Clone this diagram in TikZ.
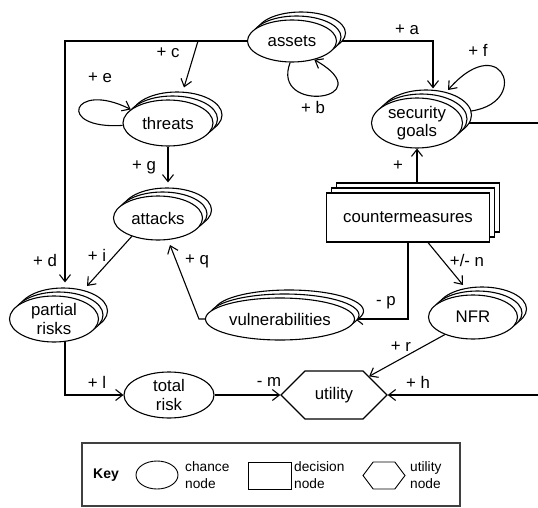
\documentclass[tikz,border=0pt]{standalone}
\usepackage{fontspec}
\setmainfont{Liberation Sans}
\usetikzlibrary{shapes.geometric,shapes.symbols,shadows,arrows.meta,backgrounds}

\tikzset{
	stack/.style={copy shadow={shadow xshift=9pt,shadow yshift=8pt,opacity=1,fill=white,draw=black,line width=1.1pt},
		copy shadow={shadow xshift=4.5pt,shadow yshift=4pt,opacity=1,fill=white,draw=black,line width=1.1pt}},
	chance/.style={ellipse,draw,fill=white,line width=1.1pt,inner sep=0pt,align=center,minimum width=90pt,minimum height=46pt},
	decision/.style={rectangle,draw,fill=white,line width=1.1pt,minimum width=163pt,minimum height=49pt},
	utilitynode/.style={signal,signal to=east and west,signal pointer angle=90,draw,fill=white,line width=1.1pt,inner sep=0pt,minimum width=106pt,minimum height=48pt},
	lbl/.style={inner sep=0pt},
	keytxt/.style={anchor=west,inner sep=0pt,align=left,font=\fontsize{13.7}{17}\selectfont},
	arr/.style={line width=1.1pt,-{Straight Barb[length=7pt,width=11pt]}},
	plain/.style={line width=1.1pt}
}

\begin{document}
\begin{tikzpicture}[x=1pt,y=-1pt,font=\fontsize{16.8}{18.5}\selectfont]
	\useasboundingbox (0,0) rectangle (538,508);

	\node[chance,stack,minimum width=89pt,minimum height=42pt] (assets) at (292,41) {assets};
	\node[chance,stack] (threats) at (168,123) {threats};
	\node[chance,stack,minimum width=89pt,minimum height=44pt] (attacks) at (158,218) {attacks};
	\node[chance,stack,minimum width=89pt] (risks) at (54,319) {partial\\risks};
	\node[chance,stack,minimum width=149pt,minimum height=42pt] (vuln) at (280,319) {vulnerabilities};
	\node[chance,stack,minimum width=89pt,minimum height=44pt] (nfr) at (473,317) {NFR};
	\node[chance,stack,minimum width=91pt,minimum height=50pt] (goals) at (417,123) {security\\goals};
	\node[chance] (total) at (169,395) {total\\risk};
	\node[utilitynode] (utility) at (334,395) {utility};
	\node[decision,copy shadow={shadow xshift=10pt,shadow yshift=10pt,opacity=1,fill=white,draw=black,line width=1.1pt},
		copy shadow={shadow xshift=5pt,shadow yshift=5pt,opacity=1,fill=white,draw=black,line width=1.1pt}] (cm) at (408,217.5) {countermeasures};

	\coordinate (fork) at (198,41);
	\coordinate (rimA) at (538,123);
	\coordinate (rimB) at (538,395);

	\begin{scope}[on background layer]
		\draw[arr] (assets.east) -| ([shift={(16pt,9pt)}]goals.north);
		\draw[arr] (assets.west) -| ([shift={(11pt,13pt)}]risks.north);
		\draw[arr] (fork) -- ([shift={(16pt,12pt)}]threats.north);
		\draw[arr] (assets.265) .. controls (270,115) and (385,100) .. (assets.320);
		\draw[arr] (threats.183) .. controls (55,130) and (72,80) .. (threats.160);
		\draw[arr] (threats.south) -- ([shift={(10pt,13pt)}]attacks.north);
		\draw[arr] (attacks.215) -- ([shift={(33pt,33pt)}]risks.center);
		\draw[arr] (vuln.west) -- ++(-6,0) -- ([shift={(12pt,-27pt)}]attacks.center);
		\draw[arr] (goals.south |- cm.center) -- (goals.south);
		\draw[arr] (cm.center) |- (vuln.east);
		\draw[arr] ([xshift=20pt]cm.south) -- ([shift={(-10pt,32pt)}]nfr.center);
		\draw[arr] (nfr.212) -- (utility.28);
		\draw[arr] ([xshift=11pt]risks.center) |- (total.west);
		\draw[arr] (total.east) -- (utility.west);
		\draw[plain] (goals.east) -- (rimA);
		\draw[arr] (rimB) -- (utility.east);
		\draw[arr] (goals.15) .. controls (535,112) and (505,25) .. ([shift={(31pt,33pt)}]goals.center);
	\end{scope}

	\node[lbl] (la) at (407,30) {+ a};
	\node[lbl] (lb) at (313,107) {+ b};
	\node[lbl] (lc) at (168,53) {+ c};
	\node[lbl] (ld) at (45,260) {+ d};
	\node[lbl] (le) at (100,78) {+ e};
	\node[lbl] (lf) at (478,50) {+ f};
	\node[lbl] (lg) at (144,167) {+ g};
	\node[lbl] (lplus) at (398,166) {+};
	\node[lbl] (li) at (97,255) {+ i};
	\node[lbl] (lq) at (197,261) {+ q};
	\node[lbl] (lp) at (386,303) {- p};
	\node[lbl] (ln) at (467,260) {+/- n};
	\node[lbl] (lr) at (401,347) {+ r};
	\node[lbl] (ll) at (97,382) {+ l};
	\node[lbl] (lm) at (269,382) {- m};
	\node[lbl] (lh) at (418,382) {+ h};

	\draw[line width=1.4pt,draw=black!75] (82,443) rectangle (460,506);
	\node[font=\bfseries\fontsize{14}{16}\selectfont] (key) at (106,475) {Key};
	\node[ellipse,draw,line width=0.9pt,minimum width=42pt,minimum height=28pt] (keychance) at (157,475) {};
	\node[keytxt] (keychancetxt) at (185,475) {chance\\node};
	\node[draw,line width=0.9pt,minimum width=43pt,minimum height=27pt] (keydecision) at (269.5,475.5) {};
	\node[keytxt] (keydecisiontxt) at (294,475) {decision\\node};
	\node[signal,signal to=east and west,signal pointer angle=106,draw,line width=0.9pt,inner sep=0pt,minimum width=42pt,minimum height=27pt] (keyutility) at (384,475.5) {};
	\node[keytxt] (keyutilitytxt) at (410,475) {utility\\node};
\end{tikzpicture}
\end{document}
